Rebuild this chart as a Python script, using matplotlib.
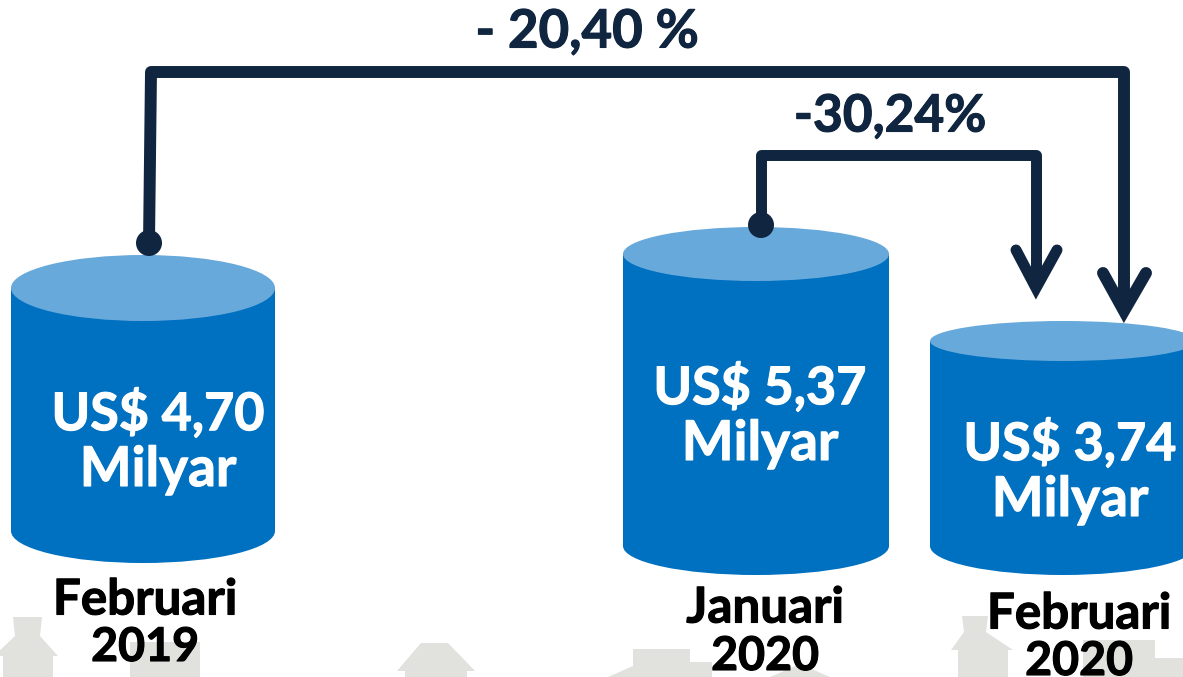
import matplotlib
matplotlib.use('Agg')
import matplotlib.pyplot as plt
import matplotlib.patheffects as pe
from matplotlib.patches import Ellipse, Polygon, Rectangle

# data
PERIODS = ['Februari\n2019', 'Januari\n2020', 'Februari\n2020']
VALUES = [4.70, 5.37, 3.74]
CHANGE_LONG = '- 20,40 %'
CHANGE_SHORT = '-30,24%'

# layout in image pixels
W, H = 1183, 677
CENTERS = [143, 756, 1063]
HALF_W = [132, 133, 133]
TOPS = [288, 254, 341]
TOP_RY = [33, 27, 20]
BASES = [531, 546, 546]
BASE_RY = [32, 29, 29]
VALUE_XY = [(158, 414), (760, 388), (1070, 444)]
VALUE_LINE2 = [(158, 470), (760, 444), (1070, 500)]
PERIOD_XY = [(145, 600), (765, 608), (1079, 614)]
PERIOD_LINE2 = [(145, 647), (765, 656), (1079, 661)]

BLUE = '#0070c0'
LIGHT = '#67a9da'
NAVY = '#10253f'
GREY = '#e1e1dd'

plt.rcParams['font.family'] = ['Lato', 'DejaVu Sans']


def house(ax, x0, x1, body0, body1, eave, top0, top1, top, shoulder=None):
    # chimney houses pass a shoulder height where the roof meets the stack
    if shoulder is None:
        roof = [(top0, top), (top1, top)]
    else:
        roof = [(top0 + 2, shoulder), (top0, top), (top1, top), (top1 - 2, shoulder)]
    pts = [(body0, H), (body0, eave), (x0, eave)] + roof + [(x1, eave), (body1, eave), (body1, H)]
    ax.add_patch(Polygon(pts, fc=GREY, ec='none', zorder=1))


def draw_background(ax):
    # faint houses along the bottom edge
    house(ax, -6, 58, 3, 53, 656, 13, 42, 617, 636)
    ax.add_patch(Rectangle((130, 642), 70, 40, fc=GREY, ec='none', zorder=1))
    house(ax, 397, 475, 405, 467, 671, 421, 448, 643)
    ax.add_patch(Polygon([(608, 677), (633, 666), (633, 649), (690, 649), (690, 662),
                          (712, 662), (712, 677)], fc=GREY, ec='none', zorder=1))
    ax.add_patch(Polygon([(770, 677), (800, 664), (830, 677)], fc=GREY, ec='none', zorder=1))
    house(ax, 951, 1013, 958, 1008, 650, 962, 988, 616, 632)
    ax.add_patch(Rectangle((1083, 640), 72, 40, fc=GREY, ec='none', zorder=1))
    ax.add_patch(Rectangle((1155, 658), 28, 20, fc=GREY, ec='none', zorder=1))


def draw_cylinder(ax, cx, hw, top, top_ry, base, base_ry):
    ax.add_patch(Ellipse((cx, base), 2 * hw, 2 * base_ry, fc=BLUE, ec='none', zorder=2))
    ax.add_patch(Rectangle((cx - hw, top), 2 * hw, base - top, fc=BLUE, ec='none', zorder=2))
    ax.add_patch(Ellipse((cx, top), 2 * hw, 2 * top_ry, fc=LIGHT, ec='none', zorder=3))


def draw_connector(ax, xs, ys, lw, arms, dot_r):
    ax.plot(xs, ys, c=NAVY, lw=lw, solid_joinstyle='round', solid_capstyle='butt', zorder=4)
    ax.plot(arms[0], arms[1], c=NAVY, lw=lw, solid_joinstyle='miter', solid_capstyle='round', zorder=4)
    ax.add_patch(Ellipse((xs[0], ys[0]), 2 * dot_r, 2 * dot_r, fc=NAVY, ec='none', zorder=4))


def bold_text(ax, xy, s, color, size, stroke=0.8):
    # Lato bold is a little lighter than the original face, thicken it with a stroke
    t = ax.text(*xy, s, color=color, fontsize=size, fontweight='bold',
                ha='center', va='center', zorder=5)
    t.set_path_effects([pe.withStroke(linewidth=stroke, foreground=color)])
    return t


def main():
    fig = plt.figure(figsize=(W / 100, H / 100), dpi=100)
    ax = fig.add_axes([0, 0, 1, 1])
    ax.set_xlim(0, W)
    ax.set_ylim(H, 0)
    ax.axis('off')

    draw_background(ax)

    for i, value in enumerate(VALUES):
        draw_cylinder(ax, CENTERS[i], HALF_W[i], TOPS[i], TOP_RY[i], BASES[i], BASE_RY[i])
        bold_text(ax, VALUE_XY[i], f'US$ {value:.2f}'.replace('.', ','), 'white', 37.5)
        bold_text(ax, VALUE_LINE2[i], 'Milyar', 'white', 39.5)
        line1, line2 = PERIODS[i].split('\n')
        bold_text(ax, PERIOD_XY[i], line1, 'black', 35.5)
        bold_text(ax, PERIOD_LINE2[i], line2, 'black', 33.5)

    draw_connector(ax, [149, 151, 1124, 1124], [243, 72, 72, 310], 8.6,
                   ([1103, 1124, 1146], [273, 311, 273]), 13)
    draw_connector(ax, [761, 761, 1036, 1036], [225, 155, 155, 285], 7.9,
                   ([1016, 1036, 1057], [250, 288, 250]), 13)

    bold_text(ax, (587, 32), CHANGE_LONG, NAVY, 38)
    bold_text(ax, (890, 117), CHANGE_SHORT, NAVY, 37)

    fig.savefig('out.png', dpi=100)


if __name__ == '__main__':
    main()
